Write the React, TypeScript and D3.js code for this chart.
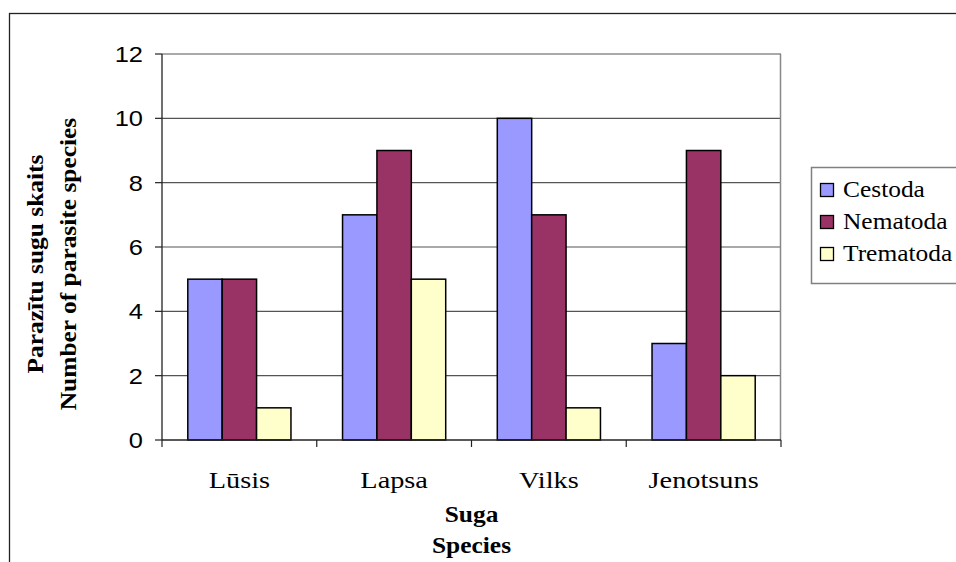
import React from "react";
import * as d3 from "d3";

const categories = ["Lūsis", "Lapsa", "Vilks", "Jenotsuns"];
const seriesNames = ["Cestoda", "Nematoda", "Trematoda"];
const cestoda = [5, 7, 10, 3];
const nematoda = [5, 9, 7, 9];
const trematoda = [1, 5, 1, 2];
const seriesValues = [cestoda, nematoda, trematoda];
const seriesColors = ["#9999FF", "#993366", "#FFFFCC"];
const yTicks = [0, 2, 4, 6, 8, 10, 12];
const yTitle = ["Parazītu sugu skaits", "Number of parasite species"];
const xTitle = ["Suga", "Species"];

const W = 956;
const H = 562;
const plot = { left: 162, right: 781, top: 54, bottom: 440 };
const FS = 22.5;
const SX = 1.13;
const SERIF = "'Liberation Serif', 'Times New Roman', serif";
const SANS = "'Liberation Sans', Arial, sans-serif";

export default function App() {
  const x0 = d3.scaleBand<string>().domain(categories).range([plot.left, plot.right]).padding(0);
  const bw = x0.bandwidth();
  const gap = (bw * 0.75) / 4.5;
  const x1 = d3.scaleBand<string>().domain(seriesNames).range([gap, bw - gap]).padding(0);
  const y = d3.scaleLinear().domain([0, 12]).range([plot.bottom, plot.top]);
  const boundaries = [...categories.map((c) => x0(c) as number), plot.right];

  return (
    <svg
      width={W}
      height={H}
      style={{ position: "absolute", left: 0, top: 0, background: "#fff" }}
    >
      <rect x={0} y={0} width={W} height={H} fill="#fff" />
      {/* outer chart border */}
      <rect x={9.5} y={13.5} width={1000} height={600} fill="none" stroke="#222" strokeWidth={1.3} />

      {/* gridlines */}
      {yTicks.filter((t) => t > 0).map((t) => (
        <line key={"g" + t} x1={plot.left} x2={plot.right} y1={y(t)} y2={y(t)} stroke="#555" strokeWidth={1.2} />
      ))}
      {/* plot area right border */}
      <line x1={plot.right - 0.5} x2={plot.right - 0.5} y1={plot.top} y2={plot.bottom} stroke="#888" strokeWidth={1.5} />

      {/* bars */}
      {seriesValues.map((vals, si) =>
        vals.map((v, ci) => {
          const bx = (x0(categories[ci]) as number) + (x1(seriesNames[si]) as number);
          return (
            <rect
              key={si + "-" + ci}
              x={bx}
              y={y(v)}
              width={x1.bandwidth()}
              height={y(0) - y(v)}
              fill={seriesColors[si]}
              stroke="#000"
              strokeWidth={1.5}
            />
          );
        })
      )}

      {/* axes */}
      <line x1={plot.left} x2={plot.left} y1={plot.top} y2={plot.bottom} stroke="#222" strokeWidth={1.3} />
      <line x1={plot.left} x2={plot.right} y1={plot.bottom} y2={plot.bottom} stroke="#222" strokeWidth={1.3} />
      {yTicks.map((t) => (
        <g key={"yt" + t}>
          <line x1={plot.left - 7} x2={plot.left} y1={y(t)} y2={y(t)} stroke="#222" strokeWidth={1.2} />
          <text
            transform={`translate(${plot.left - 19},${y(t) + 8}) scale(${SX},1)`}
            textAnchor="end"
            fontFamily={SANS}
            fontSize={FS}
            fill="#000"
          >
            {t}
          </text>
        </g>
      ))}
      {boundaries.map((bx, i) => (
        <line key={"xt" + i} x1={bx} x2={bx} y1={plot.bottom} y2={plot.bottom + 7} stroke="#222" strokeWidth={1.2} />
      ))}
      {categories.map((c) => (
        <text
          key={"xl" + c}
          transform={`translate(${(x0(c) as number) + bw / 2},488) scale(1.18,1)`}
          textAnchor="middle"
          fontFamily={SERIF}
          fontSize={24}
          fill="#000"
        >
          {c}
        </text>
      ))}

      {/* x axis title */}
      {xTitle.map((t, i) => (
        <text
          key={"xtt" + i}
          transform={`translate(${(plot.left + plot.right) / 2},${522 + i * 31}) scale(${SX},1)`}
          textAnchor="middle"
          fontFamily={SERIF}
          fontWeight="bold"
          fontSize={FS}
          fill="#000"
        >
          {t}
        </text>
      ))}

      {/* y axis title */}
      {yTitle.map((t, i) => (
        <text
          key={"ytt" + i}
          transform={`translate(${43 + i * 33},264) rotate(-90) scale(${SX},1)`}
          textAnchor="middle"
          fontFamily={SERIF}
          fontWeight="bold"
          fontSize={FS}
          fill="#000"
        >
          {t}
        </text>
      ))}

      {/* legend */}
      <rect x={811.5} y={167.5} width={200} height={116} fill="#fff" stroke="#808080" strokeWidth={1.5} />
      {seriesNames.map((s, i) => (
        <g key={"lg" + s}>
          <rect x={820.5} y={183.5 + i * 32} width={13} height={13} fill={seriesColors[i]} stroke="#000" strokeWidth={1.3} />
          <text
            transform={`translate(843,${197 + i * 32}) scale(${SX},1)`}
            fontFamily={SERIF}
            fontSize={FS}
            fill="#000"
          >
            {s}
          </text>
        </g>
      ))}
    </svg>
  );
}
